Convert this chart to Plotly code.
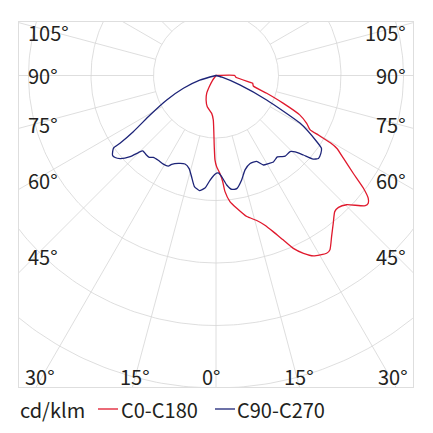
import numpy as np
import plotly.graph_objects as go

# photometric data, gamma in degrees (0 = straight down), intensity in cd/klm
# negative gamma = C180 / C270 half plane
c0_gamma = [-90, -40, -36, -30.9, -27.6, -22.2, -15.6, -6.5, -3.5, -1.4, -0.7, 0.4, 2.3,
            3.6, 4.4, 6.3, 8.9, 12.3, 15.7, 18.1, 20.1, 22.2, 24.1, 26.2, 28.4, 31.9, 33.2,
            35.7, 38.4, 41.1, 42.9, 45.3, 48.9, 50.0, 51.1, 52.6, 54.5, 57.0, 58.9, 59.5,
            59.8, 60.0, 62.2, 64.8, 67.6, 70.7, 74.3, 78.0, 78.7, 84.9, 90, 90]
c0_int = [0, 0, 9, 21, 32, 42, 52, 61, 71, 114, 135, 146, 157,
          170, 186, 203, 215, 231, 241, 252, 266, 284, 303, 317, 328, 335, 333,
          317, 302, 289, 288, 294, 317, 318, 313, 297, 270, 243, 226, 213,
          190, 174, 164, 148, 116, 86, 62, 60, 56, 32, 30, 0]

c90_gamma = [-90, -80, -74.3, -68.6, -63.6, -59.1, -55.8, -54.8, -54.7, -52.4, -50.9, -49.1,
             -46.6, -45.2, -44.2, -41.4, -39.2, -37.5, -34.3, -30.7, -27.8, -26.5, -23.2,
             -19.3, -16.1, -13.5, -11.0, -8.2, -5.6, -3.3, -0.6, 1.3, 3.2, 5.6, 7.9, 10.4,
             13.8, 17.1, 21.2, 25.3, 27.9, 30.8, 33.6, 37.0, 39.0, 40.6, 44.2, 46.0, 47.7,
             49.3, 51.0, 53.4, 55.4, 56.7, 60.4, 64.2, 68.4, 74, 80, 90]
c90_int = [0, 0, 27, 56, 88, 123, 160, 188, 201, 209, 208, 203,
           189, 175, 168, 169, 169, 165, 164, 165, 164, 159, 153,
           150, 155, 167, 181, 186, 181, 168, 158, 156, 162, 176, 184, 184,
           172, 158, 151, 152, 162, 164, 166, 163, 167, 170, 170, 176, 189,
           205, 211, 209, 205, 193, 155, 90, 41, 10, 0, 0]

ring_levels = [100, 200, 300, 400, 500]
spoke_angles = list(range(-180, 181, 15))
side_labels = ["105°", "90°", "75°", "60°", "45°"]
side_label_y = [33, 76, 125, 180, 256]
bottom_labels = ["30°", "15°", "0°", "15°", "30°"]
bottom_label_x = [40, 135, 211, 299, 393]

RED = "#e0192d"
BLUE = "#1d2478"
GRID = "#d6d6d6"
TEXT = "#231f20"
FONT = "Noto Sans CJK JP"

W, H = 433, 433
BOX_L, BOX_R, BOX_T, BOX_B = 19, 413, 22, 387
SCALE = 1.6  # cd/klm per pixel
CX, CY = 216, 75.5  # pole position in pixels


def to_xy(gamma, r):
    g = np.radians(np.asarray(gamma, dtype=float))
    r = np.asarray(r, dtype=float)
    return r * np.sin(g), -r * np.cos(g)


def paper(px, py):
    return (px - BOX_L) / (BOX_R - BOX_L), (BOX_B - py) / (BOX_B - BOX_T)


fig = go.Figure()

# grid: rings and spokes
gx, gy = [], []
th = np.linspace(0, 360, 361)
for lvl in ring_levels:
    x, y = to_xy(th, np.full_like(th, lvl))
    gx += list(x) + [None]
    gy += list(y) + [None]
for a in spoke_angles:
    x, y = to_xy([a, a], [ring_levels[0], 900])
    gx += list(x) + [None]
    gy += list(y) + [None]
fig.add_trace(go.Scatter(x=gx, y=gy, mode="lines", line=dict(color=GRID, width=0.8),
                         hoverinfo="skip", showlegend=False))

x, y = to_xy(c0_gamma, c0_int)
fig.add_trace(go.Scatter(x=x, y=y, mode="lines", name="C0-C180",
                         line=dict(color=RED, width=1.3, shape="spline", smoothing=0.5)))
x, y = to_xy(c90_gamma, c90_int)
fig.add_trace(go.Scatter(x=x, y=y, mode="lines", name="C90-C270",
                         line=dict(color=BLUE, width=1.3, shape="spline", smoothing=0.5)))

xr = [(BOX_L - CX) * SCALE, (BOX_R - CX) * SCALE]
yr = [(CY - BOX_B) * SCALE, (CY - BOX_T) * SCALE]
axis = dict(showgrid=False, zeroline=False, showticklabels=False, ticks="",
            showline=True, mirror=True, linecolor="#dedede", linewidth=1)
fig.update_xaxes(range=xr, **axis)
fig.update_yaxes(range=yr, **axis)

ann = []
for t, py in zip(side_labels, side_label_y):
    xp, yp = paper(26, py)
    ann.append(dict(text=t, x=xp, y=yp, xanchor="left", yanchor="middle"))
    xp, yp = paper(408, py)
    ann.append(dict(text=t, x=xp, y=yp, xanchor="right", yanchor="middle"))
for t, px in zip(bottom_labels, bottom_label_x):
    xp, yp = paper(px, 376)
    ann.append(dict(text=t, x=xp, y=yp, xanchor="center", yanchor="middle"))

# legend row
for t, px in [("cd/klm", 18), ("C0-C180", 119), ("C90-C270", 235)]:
    xp, yp = paper(px, 409)
    ann.append(dict(text=t, x=xp, y=yp, xanchor="left", yanchor="middle"))
for a in ann:
    a.update(xref="paper", yref="paper", showarrow=False,
             font=dict(family=FONT, size=20, color=TEXT))
fig.update_layout(annotations=ann)

for col, x0, x1 in [(RED, 98, 118), (BLUE, 215, 235)]:
    p0, yy = paper(x0, 409)
    p1, _ = paper(x1, 409)
    fig.add_shape(type="line", xref="paper", yref="paper", x0=p0, x1=p1, y0=yy, y1=yy,
                  line=dict(color=col, width=1.3))

fig.update_layout(
    width=W, height=H,
    margin=dict(l=BOX_L, r=W - BOX_R, t=BOX_T, b=H - BOX_B),
    paper_bgcolor="white", plot_bgcolor="white",
    showlegend=False,
    font=dict(family=FONT, color=TEXT),
)

fig.write_html("out.html", config={"displayModeBar": False},
               post_script="document.body.style.margin='0';")
